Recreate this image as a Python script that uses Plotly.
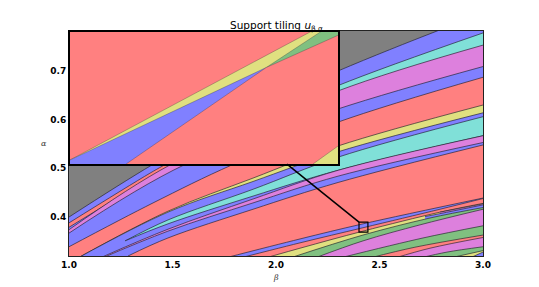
import plotly.graph_objects as go

RED, BLUE, GREEN, CYAN, MAGENTA, YELLOW, GRAY = "#ff8080", "#8080ff", "#80c080", "#80e0d8", "#dd80dd", "#e0e080", "#808080"

a_beta = [1.0, 1.401, 1.85, 2.3, 2.778, 3.0]
a_alpha = [0.400, 0.507, 0.614, 0.700, 0.782, 0.817]
c_beta = [1.0, 1.391, 1.512, 2.0]
c_alpha = [0.388, 0.490, 0.519, 0.640]
d_beta = [1.0, 1.391, 1.512, 2.0]
d_alpha = [0.379, 0.480, 0.511, 0.630]
e2_beta = [1.874, 2.3, 3.0]
e2_alpha = [0.589, 0.670, 0.778]
e_beta = [1.0, 1.488, 2.3, 3.0]
e_alpha = [0.374, 0.507, 0.659, 0.753]
f_beta = [1.0, 1.556, 2.3, 3.0]
f_alpha = [0.367, 0.507, 0.622, 0.709]
g_beta = [1.0, 1.406, 1.787, 2.3, 3.0]
g_alpha = [0.339, 0.429, 0.507, 0.595, 0.687]
h_beta = [1.043, 1.478, 1.889, 2.3, 3.0]
h_alpha = [0.316, 0.412, 0.480, 0.546, 0.630]
i_beta = [1.043, 1.478, 1.889, 2.3, 3.0]
i_alpha = [0.316, 0.410, 0.473, 0.534, 0.614]
j_beta = [1.271, 1.478, 1.889, 2.3, 3.0]
j_alpha = [0.351, 0.394, 0.457, 0.523, 0.606]
k_beta = [1.271, 1.478, 1.889, 2.3, 3.0]
k_alpha = [0.351, 0.386, 0.443, 0.496, 0.567]
l_beta = [1.15, 1.478, 1.889, 2.3, 3.0]
l_alpha = [0.316, 0.375, 0.437, 0.496, 0.567]
m_beta = [1.15, 1.478, 1.889, 2.3, 3.0]
m_alpha = [0.314, 0.371, 0.429, 0.484, 0.553]
n_beta = [1.285, 1.478, 1.889, 2.3, 3.0]
n_alpha = [0.320, 0.357, 0.416, 0.471, 0.548]
p1_beta = [1.754, 2.116, 2.42, 3.0]
p1_alpha = [0.316, 0.355, 0.386, 0.439]
p2_beta = [1.754, 2.116, 2.42, 2.792, 3.0]
p2_alpha = [0.308, 0.347, 0.378, 0.416, 0.438]
p3_beta = [1.826, 2.116, 2.42, 2.792, 3.0]
p3_alpha = [0.301, 0.336, 0.371, 0.410, 0.428]
tm_beta = [2.792, 3.0]
tm_alpha = [0.410, 0.427]
t2_beta = [2.72, 2.792, 3.0]
t2_alpha = [0.401, 0.407, 0.425]
q_beta = [2.068, 2.42, 2.744, 3.0]
q_alpha = [0.316, 0.363, 0.398, 0.4195]
r_beta = [2.188, 2.42, 2.696, 3.0]
r_alpha = [0.316, 0.351, 0.384, 0.416]
s_beta = [2.309, 2.71, 3.0]
s_alpha = [0.316, 0.357, 0.382]
s2_beta = [2.454, 2.671, 3.0]
s2_alpha = [0.316, 0.338, 0.363]
s3_beta = [2.575, 2.744, 3.0]
s3_alpha = [0.316, 0.336, 0.358]
s4_beta = [2.696, 2.826, 3.0]
s4_alpha = [0.316, 0.328, 0.339]
s5_beta = [2.841, 3.0]
s5_alpha = [0.316, 0.331]
s6_beta = [2.937, 3.0]
s6_alpha = [0.316, 0.328]

# zoomed view around the small square
zoom_beta_range = [2.401, 2.444]
zoom_alpha_range = [0.3692, 0.3897]
i0_beta = [2.401, 2.444]
i0_alpha = [0.395, 0.395]
i1_beta = [2.401, 2.43945, 2.444]
i1_alpha = [0.36982, 0.3897, 0.392]
i3_beta = [2.401, 2.43247]
i3_alpha = [0.36982, 0.38417]
i2_beta = [2.43247, 2.44105, 2.444]
i2_alpha = [0.38417, 0.3897, 0.3915]
i4_beta = [2.41, 2.43247, 2.444]
i4_alpha = [0.3692, 0.38417, 0.38918]
i5_beta = [2.43998, 2.444]
i5_alpha = [0.3692, 0.37199]

x_ticks = [1.0, 1.5, 2.0, 2.5, 3.0]
y_ticks = [0.4, 0.5, 0.6, 0.7]

main_curves = [
    ([1.0, 3.0], [0.82, 0.82], GRAY),
    (a_beta, a_alpha, BLUE), (c_beta, c_alpha, RED), (d_beta, d_alpha, BLUE),
    (e2_beta, e2_alpha, CYAN), (e_beta, e_alpha, MAGENTA), (f_beta, f_alpha, BLUE),
    (g_beta, g_alpha, RED), (h_beta, h_alpha, YELLOW), (i_beta, i_alpha, BLUE),
    (j_beta, j_alpha, CYAN), (k_beta, k_alpha, BLUE), (l_beta, l_alpha, MAGENTA),
    (m_beta, m_alpha, BLUE), (n_beta, n_alpha, RED), (p1_beta, p1_alpha, BLUE),
    (p2_beta, p2_alpha, RED), (p3_beta, p3_alpha, YELLOW), (tm_beta, tm_alpha, MAGENTA),
    (t2_beta, t2_alpha, BLUE), (q_beta, q_alpha, GREEN), (r_beta, r_alpha, MAGENTA),
    (s_beta, s_alpha, GREEN), (s2_beta, s2_alpha, RED), (s3_beta, s3_alpha, MAGENTA),
    (s4_beta, s4_alpha, GREEN), (s5_beta, s5_alpha, YELLOW), (s6_beta, s6_alpha, BLUE),
]
zoom_curves = [
    (i0_beta, i0_alpha, RED), (i1_beta, i1_alpha, YELLOW), (i3_beta, i3_alpha, BLUE),
    (i2_beta, i2_alpha, GREEN), (i4_beta, i4_alpha, RED), (i5_beta, i5_alpha, YELLOW),
]

fig = go.Figure()
EDGE = "rgba(30,30,40,0.8)"
for x, y, c in main_curves:
    fig.add_trace(go.Scatter(x=x, y=y, mode="lines", fill="tozeroy", fillcolor=c,
                             line=dict(color=EDGE, width=0.8, shape="spline", smoothing=1.0), hoverinfo="skip",
                             showlegend=False, xaxis="x", yaxis="y"))
for x, y, c in zoom_curves:
    fig.add_trace(go.Scatter(x=x, y=y, mode="lines", fill="tozeroy", fillcolor=c,
                             line=dict(color="rgba(40,40,50,0.5)", width=0.6), hoverinfo="skip",
                             showlegend=False, xaxis="x2", yaxis="y2"))

tick_font = dict(family="DejaVu Sans", size=9, color="black", weight=700)
fig.update_layout(
    width=539, height=287, autosize=False,
    margin=dict(l=69, r=56, t=31, b=31, autoexpand=False),
    paper_bgcolor="white", plot_bgcolor="white",
    xaxis=dict(domain=[0, 1], range=[1, 3], tickvals=x_ticks, ticktext=["1.0", "1.5", "2.0", "2.5", "3.0"],
               tickfont=tick_font, showgrid=False, zeroline=False, ticks="", showline=True, automargin=False,
               linecolor="#222", linewidth=1, mirror=True),
    yaxis=dict(domain=[0, 1], range=[0.32, 0.782], tickvals=y_ticks, ticktext=["0.4", "0.5", "0.6", "0.7"],
               tickfont=tick_font, showgrid=False, zeroline=False, ticks="", showline=True, automargin=False,
               linecolor="#222", linewidth=1, mirror=True),
    xaxis2=dict(domain=[0.0024, 0.65], anchor="y2", range=zoom_beta_range, visible=True, showticklabels=False,
                ticks="", showgrid=False, zeroline=False, showline=True, linecolor="black", linewidth=2, mirror=True),
    yaxis2=dict(domain=[0.409, 0.996], anchor="x2", range=zoom_alpha_range, visible=True, showticklabels=False,
                ticks="", showgrid=False, zeroline=False, showline=True, linecolor="black", linewidth=2, mirror=True),
    shapes=[
        dict(type="rect", xref="x", yref="y", x0=zoom_beta_range[0], x1=zoom_beta_range[1],
             y0=zoom_alpha_range[0], y1=zoom_alpha_range[1], line=dict(color="black", width=1.2), layer="above"),
        dict(type="line", xref="x", yref="y", x0=2.053, y0=0.5088, x1=zoom_beta_range[0], y1=zoom_alpha_range[1],
             line=dict(color="black", width=1.5), layer="above"),
    ],
    annotations=[
        dict(text="Support tiling <i>u</i><sub>β,α</sub>", xref="paper", yref="paper", x=0.5, y=1.0,
             xanchor="center", yanchor="bottom", yshift=-4, showarrow=False,
             font=dict(family="DejaVu Sans", size=10.5, color="black")),
        dict(text="<i>β</i>", xref="paper", yref="paper", x=0.5, y=0, xanchor="center", yanchor="top",
             yshift=-15, showarrow=False, font=dict(family="DejaVu Serif", size=8, color="#333")),
        dict(text="<i>α</i>", xref="paper", yref="paper", x=0, y=0.5, xanchor="right", yanchor="middle",
             xshift=-20, showarrow=False, font=dict(family="DejaVu Serif", size=8, color="#333")),
    ],
)
fig.write_html("out.html", config={"displayModeBar": False}, post_script="document.body.style.margin='0';")
